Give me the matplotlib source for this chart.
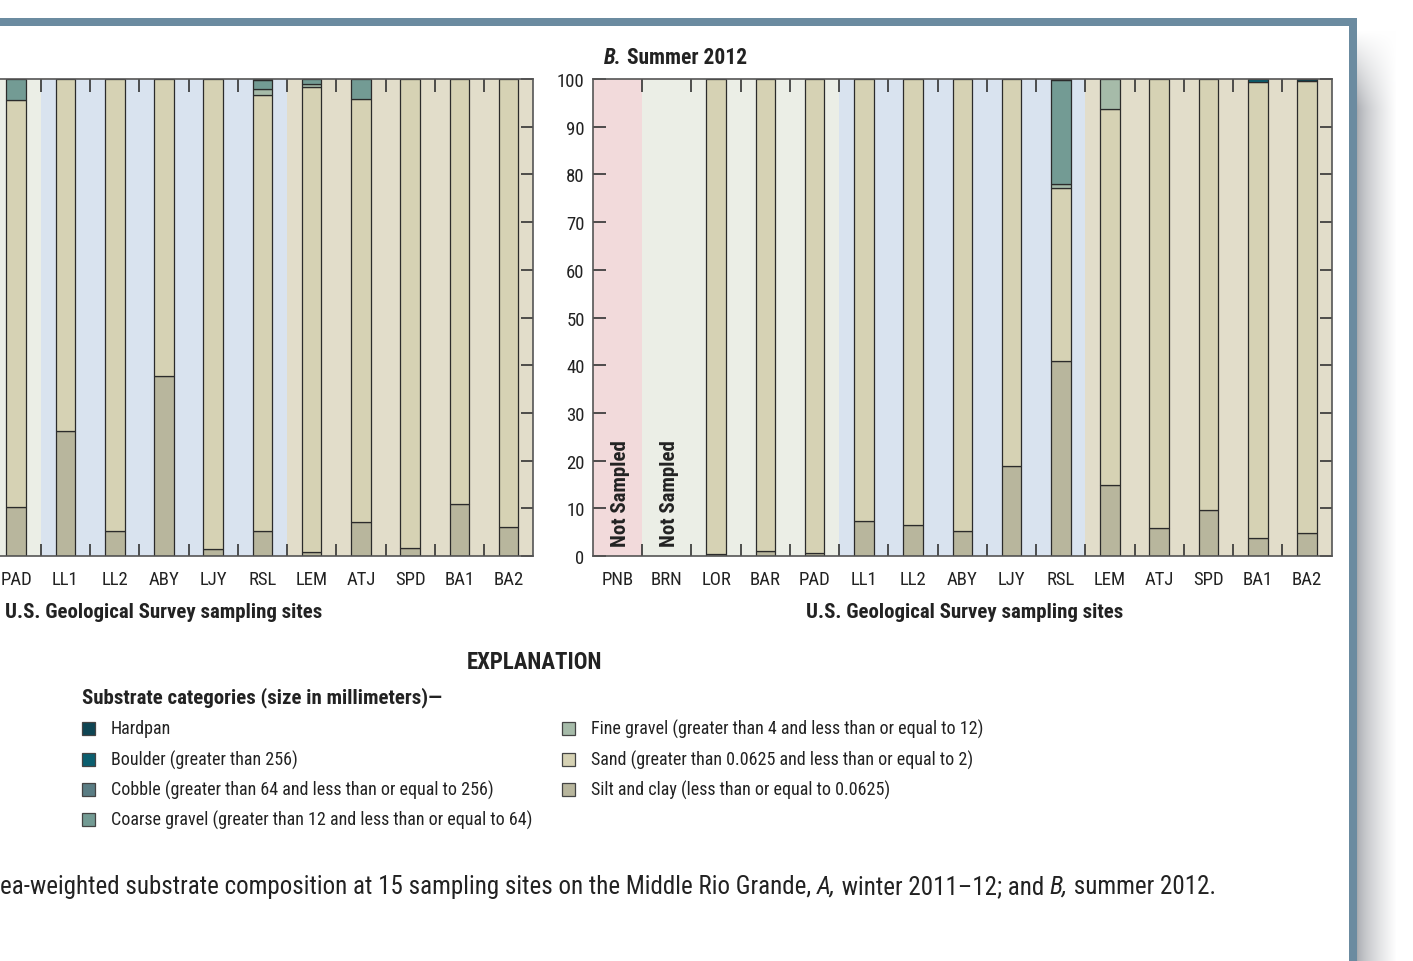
import numpy as np
import matplotlib.pyplot as plt
from matplotlib.patches import Rectangle

plt.rcParams['font.family'] = ['Roboto Condensed', 'Roboto', 'DejaVu Sans']

W, H = 1413, 962
nan = np.nan

sites = ['PNB', 'BRN', 'LOR', 'BAR', 'PAD', 'LL1', 'LL2', 'ABY', 'LJY', 'RSL',
         'LEM', 'ATJ', 'SPD', 'BA1', 'BA2']

# river reaches shaded behind the bars
reach_groups = [['PNB'], ['BRN', 'LOR', 'BAR', 'PAD'],
                ['LL1', 'LL2', 'ABY', 'LJY', 'RSL'],
                ['LEM', 'ATJ', 'SPD', 'BA1', 'BA2']]
reach_colors = ['#f2dadb', '#ebeee6', '#d9e3ef', '#e2ddca']

# legend order (top to bottom) and colours
cat_names = ['Hardpan',
             'Boulder (greater than 256)',
             'Cobble (greater than 64 and less than or equal to 256)',
             'Coarse gravel (greater than 12 and less than or equal to 64)',
             'Fine gravel (greater than 4 and less than or equal to 12)',
             'Sand (greater than 0.0625 and less than or equal to 2)',
             'Silt and clay (less than or equal to 0.0625)']
cat_colors = ['#0e4553', '#0b5f6f', '#5a7d84', '#739b94', '#a6bba9', '#d6d2b4', '#b8b69d']

# A. winter 2011-12, percent (first four sites are outside the picture)
a_silt = [nan, nan, nan, nan, 10.3, 26.3, 5.3, 37.7, 1.5, 5.2, 0.8, 7.1, 1.6, 10.8, 6.0]
a_sand = [nan, nan, nan, nan, 85.2, 73.7, 94.7, 62.3, 98.5, 91.4, 97.5, 88.8, 98.4, 89.2, 94.0]
a_fine = [nan, nan, nan, nan, 0, 0, 0, 0, 0, 1.2, 0.7, 0, 0, 0, 0]
a_coarse = [nan, nan, nan, nan, 4.5, 0, 0, 0, 0, 1.9, 1.0, 4.1, 0, 0, 0]
a_cobble = [nan, nan, nan, nan, 0, 0, 0, 0, 0, 0, 0, 0, 0, 0, 0]
a_boulder = [nan, nan, nan, nan, 0, 0, 0, 0, 0, 0, 0, 0, 0, 0, 0]
a_hardpan = [nan, nan, nan, nan, 0, 0, 0, 0, 0, 0.3, 0, 0, 0, 0, 0]

# B. summer 2012, percent
b_silt = [nan, nan, 0.5, 1.0, 0.6, 7.3, 6.5, 5.3, 18.8, 40.9, 14.9, 5.9, 9.6, 3.8, 4.8]
b_sand = [nan, nan, 99.5, 99.0, 99.4, 92.7, 93.5, 94.7, 81.2, 36.2, 78.8, 94.1, 90.4, 95.5, 94.8]
b_fine = [nan, nan, 0, 0, 0, 0, 0, 0, 0, 0.8, 6.3, 0, 0, 0, 0]
b_coarse = [nan, nan, 0, 0, 0, 0, 0, 0, 0, 21.8, 0, 0, 0, 0, 0]
b_cobble = [nan, nan, 0, 0, 0, 0, 0, 0, 0, 0, 0, 0, 0, 0, 0]
b_boulder = [nan, nan, 0, 0, 0, 0, 0, 0, 0, 0, 0, 0, 0, 0.7, 0]
b_hardpan = [nan, nan, 0, 0, 0, 0, 0, 0, 0, 0.3, 0, 0, 0, 0, 0.4]
b_not_sampled = ['PNB', 'BRN']

INK = '#222222'


def draw_panel(ax, layers, not_sampled=(), show_hidden=True):
    x = np.arange(len(sites))
    for group, col in zip(reach_groups, reach_colors):
        i0, i1 = sites.index(group[0]), sites.index(group[-1])
        ax.axvspan(i0 - 0.5, i1 + 0.5, color=col, lw=0, zorder=0)
    bottom = np.zeros(len(sites))
    # stack from silt (bottom) up to hardpan
    for vals, col in zip(layers, cat_colors[::-1]):
        v = np.nan_to_num(np.array(vals, float))
        ok = v > 0
        ax.bar(x[ok], v[ok], width=0.4, bottom=bottom[ok], color=col,
               edgecolor='#2b2b2b', linewidth=0.9, zorder=2)
        bottom += v
    for s in not_sampled:
        ax.text(sites.index(s) + 0.05, 2, 'Not Sampled', rotation=90, ha='center',
                va='bottom', fontsize=15, fontweight='bold', color=INK, zorder=3)
    ax.set_xlim(-0.5, len(sites) - 0.5)
    ax.set_ylim(0, 100)
    ax.set_xticks(x[:-1] + 0.5)
    ax.set_xticks(x, minor=True)
    if show_hidden:
        ax.set_xticklabels(sites, minor=True)
    else:
        # sites left of the crop carry no label
        has = ~np.isnan(np.array(layers[0], float))
        ax.set_xticklabels([s if h else '' for s, h in zip(sites, has)], minor=True)
    ax.tick_params(axis='x', which='major', direction='in', length=9, width=1.2,
                   top=True, bottom=True, labelbottom=False, color='#333333')
    ax.tick_params(axis='x', which='minor', length=0, pad=10, labelsize=13.5, labelcolor=INK)
    ax.set_yticks(range(0, 101, 10))
    ax.tick_params(axis='y', direction='in', length=9, width=1.2, left=True, right=True,
                   pad=6, labelsize=13.5, color='#333333', labelcolor=INK,
                   labelleft=show_hidden)
    for sp in ax.spines.values():
        sp.set_color('#555555')
        sp.set_linewidth(1.2)
        sp.set_zorder(4)


def fx(px):
    return px / W


def fy(py):
    return 1 - py / H


fig = plt.figure(figsize=(W / 100, H / 100), dpi=100)

# page frame with drop shadow (drawn first, behind everything)
frame = '#6b8ba0'
sh = fig.add_axes([fx(1357), 0, 40 / W, fy(30)], zorder=-5)
gx = np.linspace(0, 1, 40) ** 0.7
gy = np.clip(np.linspace(0, 1, 200) * 12, 0, 1)
alpha = (1 - gx)[None, :] * gy[:, None]
img = np.ones((200, 40, 3)) - alpha[..., None] * (1 - np.array([0.66, 0.67, 0.69]))
sh.imshow(img, aspect='auto', interpolation='bilinear')
sh.set_axis_off()
fig.add_artist(Rectangle((0, fy(27)), fx(1357), 8 / H, transform=fig.transFigure,
                         color=frame, lw=0))
fig.add_artist(Rectangle((fx(1349), 0), 8 / W, fy(19), transform=fig.transFigure,
                         color=frame, lw=0))

bot = 1 - 557 / H
hgt = 477 / H
axA = fig.add_axes([fx(533.2 - 738.5), bot, 738.5 / W, hgt])
axB = fig.add_axes([fx(593), bot, 738.7 / W, hgt])
draw_panel(axA, [a_silt, a_sand, a_fine, a_coarse, a_cobble, a_boulder, a_hardpan],
           show_hidden=False)
draw_panel(axB, [b_silt, b_sand, b_fine, b_coarse, b_cobble, b_boulder, b_hardpan],
           b_not_sampled)

# panel title B
t = fig.text(fx(604), fy(58), 'B.', fontsize=15.5, fontweight='bold', style='italic',
             va='center', color=INK)
axB.annotate(' Summer 2012', xy=(1, 0), xycoords=t, va='bottom', fontsize=15.5,
             fontweight='bold', color=INK)

for cx in (164, 965):
    fig.text(fx(cx), fy(613), 'U.S. Geological Survey sampling sites', ha='center',
             va='center', fontsize=15, fontweight='bold', color=INK)

# explanation
fig.text(fx(534), fy(663), 'EXPLANATION', ha='center', va='center', fontsize=16.5,
         fontweight='bold', color=INK)
fig.text(fx(82), fy(698), 'Substrate categories (size in millimeters)\u2014', va='center',
         fontsize=15, fontweight='bold', color=INK)
rows = [729, 760, 790, 820]
for i, (name, col) in enumerate(zip(cat_names, cat_colors)):
    if i < 4:
        sx, ry = 82, rows[i]
    else:
        sx, ry = 562, rows[i - 4]
    fig.add_artist(Rectangle((fx(sx), fy(ry + 6.5)), 13 / W, 13 / H, transform=fig.transFigure,
                             facecolor=col, edgecolor='#444444', linewidth=0.9))
    fig.text(fx(sx + 29), fy(ry), name, va='center', fontsize=13, color=INK)

# caption (left part is cut off in the source)
cap = dict(va='bottom', fontsize=18, color=INK)
c0 = fig.text(fx(0), fy(887), 'ea-weighted substrate composition at 15 sampling sites on the '
              'Middle Rio Grande, ', va='center', fontsize=18, color=INK)
c1 = axB.annotate('A,', xy=(1, 0), xycoords=c0, style='italic', **cap)
c2 = axB.annotate(' winter 2011\u201312; and ', xy=(1, 0), xycoords=c1, **cap)
c3 = axB.annotate('B,', xy=(1, 0), xycoords=c2, style='italic', **cap)
axB.annotate(' summer 2012.', xy=(1, 0), xycoords=c3, **cap)

fig.savefig('out.png', dpi=100)
